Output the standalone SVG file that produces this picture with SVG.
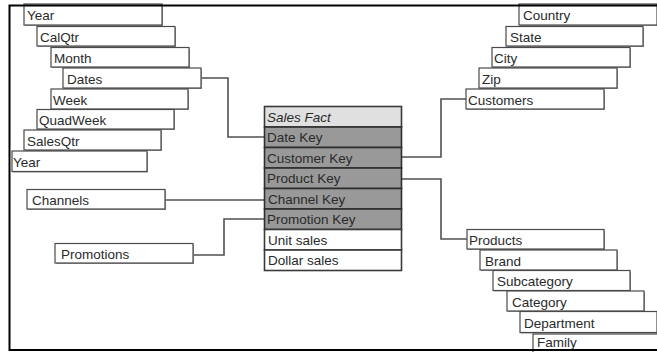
<svg xmlns="http://www.w3.org/2000/svg" width="657" height="352" viewBox="0 0 657 352">
<defs>
<style>
.bx rect.sh{fill:#9a9a9a;}
.bx rect.b{fill:#ffffff;stroke:#4a4a4a;stroke-width:1.2;}
text{font-family:"Liberation Sans",Arial,sans-serif;font-size:13.5px;fill:#2a2a2a;}
.con{fill:none;stroke:#505050;stroke-width:1.6;}
.key{fill:#999999;stroke:#2e2e2e;stroke-width:1.6;}
.hdr{fill:#e0e0e0;stroke:#3a3a3a;stroke-width:1.6;}
.val{fill:#ffffff;stroke:#3a3a3a;stroke-width:1.6;}
</style>
</defs>
<rect x="0" y="0" width="657" height="352" fill="#ffffff"/>

<g id="connectors">
<polyline class="con" points="202,78 228,78 228,137 264,137"/>
<polyline class="con" points="402,157 441,157 441,99 466,99"/>
<polyline class="con" points="402,179 441,179 441,239 467,239"/>
<polyline class="con" points="165,200 264,200"/>
<polyline class="con" points="193,255 224,255 224,219 264,219"/>
</g>

<g id="year-top" class="bx"><rect class="sh" x="25" y="5" width="138" height="21"/><rect class="b" x="24" y="4" width="138" height="21"/><text x="27" y="20">Year</text></g>
<g id="calqtr" class="bx"><rect class="sh" x="38" y="27.5" width="138" height="19.5"/><rect class="b" x="37" y="26.5" width="138" height="19.5"/><text x="40" y="42">CalQtr</text></g>
<g id="month" class="bx"><rect class="sh" x="52" y="48.5" width="138" height="19.5"/><rect class="b" x="51" y="47.5" width="138" height="19.5"/><text x="54" y="63">Month</text></g>
<g id="dates" class="bx"><rect class="sh" x="64" y="69" width="138" height="20"/><rect class="b" x="63" y="68" width="138" height="20"/><text x="67" y="83.5">Dates</text></g>
<g id="week" class="bx"><rect class="sh" x="52" y="90" width="137" height="20"/><rect class="b" x="51" y="89" width="137" height="20"/><text x="53" y="104.5">Week</text></g>
<g id="quadweek" class="bx"><rect class="sh" x="38" y="110.5" width="137" height="19.5"/><rect class="b" x="37" y="109.5" width="137" height="19.5"/><text x="39" y="125">QuadWeek</text></g>
<g id="salesqtr" class="bx"><rect class="sh" x="25" y="131" width="137" height="20"/><rect class="b" x="24" y="130" width="137" height="20"/><text x="27" y="145.5">SalesQtr</text></g>
<g id="year-bottom" class="bx"><rect class="sh" x="13" y="152" width="135" height="20.5"/><rect class="b" x="12" y="151" width="135" height="20.5"/><text x="13" y="166.5">Year</text></g>

<g id="channels" class="bx"><rect class="sh" x="28" y="190.5" width="138" height="19.5"/><rect class="b" x="27" y="189.5" width="138" height="19.5"/><text x="32" y="205">Channels</text></g>
<g id="promotions" class="bx"><rect class="sh" x="56" y="244.5" width="138" height="19.5"/><rect class="b" x="55" y="243.5" width="138" height="19.5"/><text x="61" y="259">Promotions</text></g>

<g id="sales-fact">
<rect class="hdr" x="264.5" y="106.5" width="137" height="20.5"/>
<text x="267" y="121.5" font-style="italic">Sales Fact</text>
<rect class="key" x="264.5" y="127" width="137" height="20.5"/>
<text x="267" y="142">Date Key</text>
<rect class="key" x="264.5" y="147.5" width="137" height="20.5"/>
<text x="267" y="162.5">Customer Key</text>
<rect class="key" x="264.5" y="168" width="137" height="20.5"/>
<text x="267" y="183">Product Key</text>
<rect class="key" x="264.5" y="188.5" width="137" height="20.5"/>
<text x="268" y="203.5">Channel Key</text>
<rect class="key" x="264.5" y="209" width="137" height="20.5"/>
<text x="267" y="224">Promotion Key</text>
<rect class="val" x="264.5" y="229.5" width="137" height="20.5"/>
<text x="268" y="244.5">Unit sales</text>
<rect class="val" x="264.5" y="250" width="137" height="20.5"/>
<text x="268" y="265">Dollar sales</text>
</g>

<g id="country" class="bx"><rect class="sh" x="520" y="5" width="138" height="21"/><rect class="b" x="519" y="4" width="138" height="21"/><text x="523" y="20">Country</text></g>
<g id="state" class="bx"><rect class="sh" x="507" y="27.5" width="137" height="19.5"/><rect class="b" x="506" y="26.5" width="137" height="19.5"/><text x="510" y="42">State</text></g>
<g id="city" class="bx"><rect class="sh" x="493" y="48.5" width="138" height="19.5"/><rect class="b" x="492" y="47.5" width="138" height="19.5"/><text x="494" y="63">City</text></g>
<g id="zip" class="bx"><rect class="sh" x="480" y="69" width="138" height="20"/><rect class="b" x="479" y="68" width="138" height="20"/><text x="482" y="83.5">Zip</text></g>
<g id="customers" class="bx"><rect class="sh" x="467" y="90" width="138" height="20"/><rect class="b" x="466" y="89" width="138" height="20"/><text x="468" y="104.5">Customers</text></g>

<g id="products" class="bx"><rect class="sh" x="468" y="230.5" width="137" height="19.5"/><rect class="b" x="467" y="229.5" width="137" height="19.5"/><text x="469" y="245">Products</text></g>
<g id="brand" class="bx"><rect class="sh" x="481" y="251" width="137" height="20"/><rect class="b" x="480" y="250" width="137" height="20"/><text x="485" y="265.5">Brand</text></g>
<g id="subcategory" class="bx"><rect class="sh" x="494" y="271.5" width="137" height="20"/><rect class="b" x="493" y="270.5" width="137" height="20"/><text x="497" y="286">Subcategory</text></g>
<g id="category" class="bx"><rect class="sh" x="508" y="292" width="137" height="20"/><rect class="b" x="507" y="291" width="137" height="20"/><text x="512" y="306.5">Category</text></g>
<g id="department" class="bx"><rect class="sh" x="521" y="312.5" width="137" height="21"/><rect class="b" x="520" y="311.5" width="137" height="21"/><text x="524" y="327.5">Department</text></g>
<g id="family" class="bx"><rect class="sh" x="534" y="335" width="137" height="21"/><rect class="b" x="533" y="334" width="137" height="21"/><text x="537" y="347">Family</text></g>

<rect id="frame" x="9.5" y="5.5" width="660" height="344.5" fill="none" stroke="#000000" stroke-width="2"/>
</svg>
